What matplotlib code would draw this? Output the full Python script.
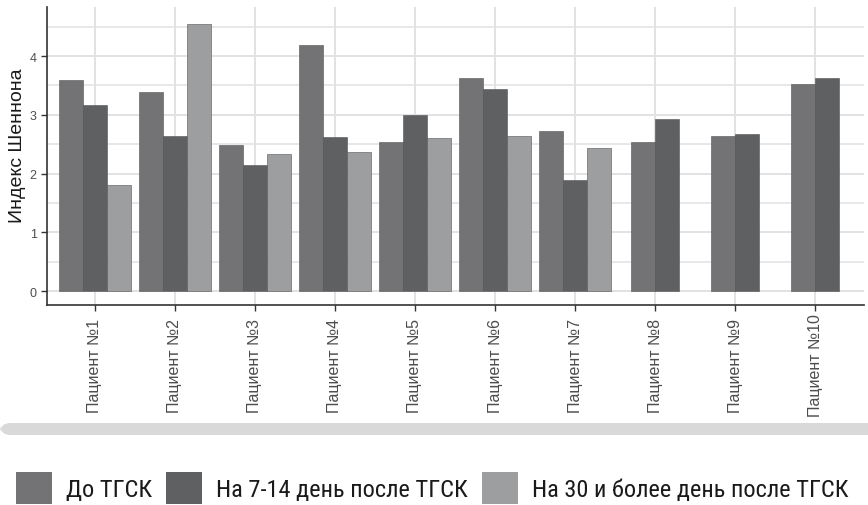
import matplotlib
matplotlib.use("Agg")
import matplotlib.pyplot as plt
import numpy as np
from matplotlib import font_manager
from matplotlib.patches import FancyBboxPatch, Patch

# --- data -------------------------------------------------------------
patients = ["Пациент №1", "Пациент №2", "Пациент №3", "Пациент №4", "Пациент №5",
            "Пациент №6", "Пациент №7", "Пациент №8", "Пациент №9", "Пациент №10"]
before = [3.60, 3.38, 2.49, 4.18, 2.53, 3.63, 2.72, 2.53, 2.64, 3.53]
day_7_14 = [3.17, 2.64, 2.15, 2.62, 3.00, 3.43, 1.89, 2.92, 2.68, 3.63]
day_30 = [1.81, 4.54, 2.34, 2.37, 2.60, 2.64, 2.43, None, None, None]
series_names = ["До ТГСК", "На 7-14 день после ТГСК", "На 30 и более день после ТГСК"]
yticks = [0, 1, 2, 3, 4]

colors = ["#737375", "#5f6062", "#9d9ea0"]

available = {f.name for f in font_manager.fontManager.ttflist}
base_font = "Liberation Sans" if "Liberation Sans" in available else "DejaVu Sans"
narrow_font = base_font
for cand in ["Liberation Sans Narrow", "Roboto Condensed", "DejaVu Sans Condensed"]:
    if cand in available:
        narrow_font = cand
        break

plt.rcParams["font.family"] = [base_font, "DejaVu Sans"]

W, H = 868, 506
fig = plt.figure(figsize=(W / 100, H / 100), dpi=100)
fig.patch.set_facecolor("white")

# panel placed in pixel terms
left_px, right_px, top_px, bottom_px = 46.5, 863.5, 8, 306
ax = fig.add_axes([left_px / W, (H - bottom_px) / H,
                   (right_px - left_px) / W, (bottom_px - top_px) / H])

x = np.arange(len(patients))
bw = 0.3
all_series = [before, day_7_14, day_30]
for i in range(len(patients)):
    present = [k for k, s in enumerate(all_series) if s[i] is not None]
    n = len(present)
    for j, k in enumerate(present):
        off = (j - (n - 1) / 2) * bw
        ax.bar(x[i] + off, all_series[k][i], width=bw, color=colors[k],
               edgecolor="#525254", linewidth=0.4, zorder=3)

ax.set_xlim(-0.6, 9.6)
ax.set_ylim(-0.238, 4.834)

# grid
grid_c = "#e2e2e2"
ax.set_yticks(yticks)
ax.set_yticks(np.arange(0.5, 5.0, 1.0), minor=True)
ax.set_xticks(x)
ax.grid(True, which="major", color=grid_c, linewidth=1.4, zorder=0)
ax.grid(True, which="minor", axis="y", color=grid_c, linewidth=1.1, zorder=0)
ax.set_axisbelow(True)

for s in ["top", "right"]:
    ax.spines[s].set_visible(False)
for s in ["left", "bottom"]:
    ax.spines[s].set_color("#333333")
    ax.spines[s].set_linewidth(1.2)

ax.tick_params(axis="y", which="major", length=4, width=1.0, color="#333333",
               labelsize=9, labelcolor="#4d4d4d", pad=3)
ax.tick_params(axis="y", which="minor", length=0)
ax.tick_params(axis="x", length=4, width=1.0, color="#333333",
               labelsize=11.5, labelcolor="#4d4d4d", pad=39)
ax.set_xticklabels(patients, rotation=90, va="center", ha="center")

ax.set_ylabel("Индекс Шеннона", fontsize=14, color="#1a1a1a")
ax.yaxis.set_label_coords((26 - left_px) / (right_px - left_px),
                          (bottom_px - 146) / (bottom_px - top_px))

# grey band separating the chart from the legend
band = FancyBboxPatch((0.0 / W, (H - 436) / H), 1.05, 12 / H,
                      boxstyle="round,pad=0,rounding_size=0.012",
                      transform=fig.transFigure, facecolor="#d9d9d9",
                      edgecolor="none", mutation_aspect=W / H)
fig.patches.append(band)

# legend
fs = 17.6
em = fs * 100 / 72
handles = [Patch(facecolor=c, edgecolor="none") for c in colors]
leg = fig.legend(handles, series_names, loc="center left",
                 bbox_to_anchor=(16 / W, (H - 489) / H),
                 ncol=3, frameon=False,
                 prop={"family": [narrow_font, "DejaVu Sans"], "size": fs},
                 handlelength=36 / em, handleheight=40 / em,
                 handletextpad=14 / em, columnspacing=14 / em,
                 borderpad=0, borderaxespad=0)
for t in leg.get_texts():
    t.set_color("#1a1a1a")

fig.savefig("out.png", dpi=100, facecolor="white")
